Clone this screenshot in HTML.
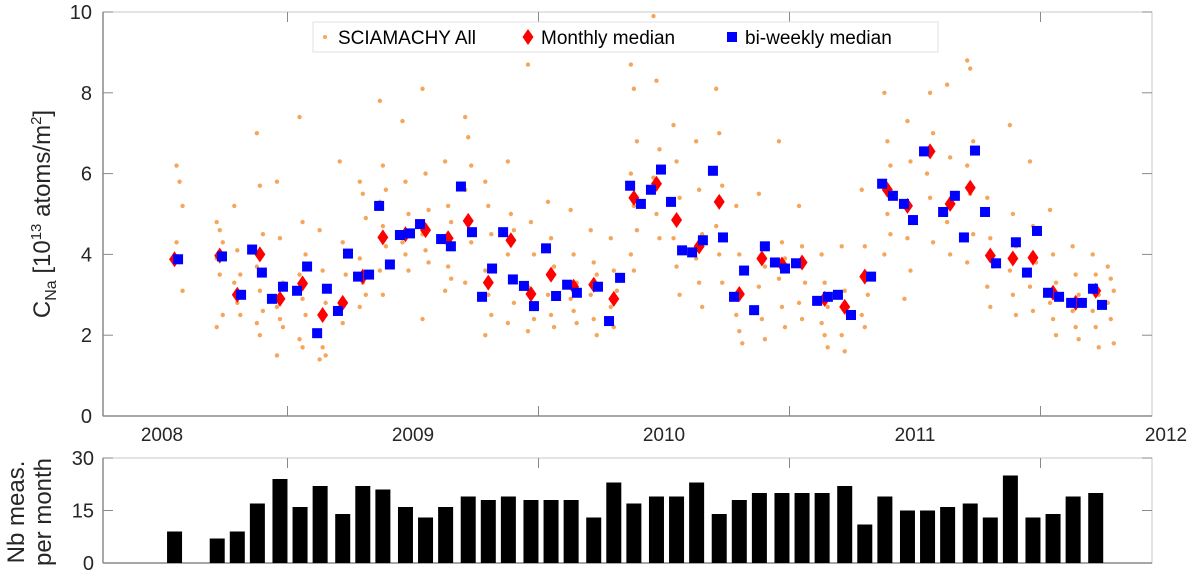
<!DOCTYPE html>
<html><head><meta charset="utf-8"><style>
body{margin:0;background:#fff;width:1200px;height:579px;overflow:hidden}
text{font-family:"Liberation Sans",sans-serif}
</style></head><body>
<svg id="c" width="1200" height="579" xmlns="http://www.w3.org/2000/svg"></svg>
<script>
const yTicksTop=[0,2,4,6,8,10];
const yTicksBot=[0,15,30];
const yearLabels=[2008,2009,2010,2011,2012];
const monthlyT=[2008.05,2008.23,2008.30,2008.39,2008.47,2008.56,2008.64,2008.72,2008.80,2008.88,2008.97,2009.05,2009.14,2009.22,2009.30,2009.39,2009.47,2009.55,2009.64,2009.72,2009.80,2009.88,2009.97,2010.05,2010.14,2010.22,2010.30,2010.39,2010.47,2010.55,2010.64,2010.72,2010.80,2010.89,2010.97,2011.06,2011.14,2011.22,2011.30,2011.39,2011.47,2011.55,2011.64,2011.72];
const monthlyV=[3.88,3.97,3.0,4.0,2.9,3.28,2.5,2.8,3.45,4.42,4.5,4.6,4.4,4.83,3.3,4.35,3.02,3.5,3.2,3.25,2.9,5.4,5.75,4.85,4.2,5.3,3.02,3.9,3.75,3.8,2.9,2.7,3.45,5.6,5.2,6.55,5.25,5.65,3.97,3.9,3.92,3.05,2.8,3.1];
const biweeklyT=[2008.064,2008.239,2008.315,2008.359,2008.398,2008.438,2008.482,2008.538,2008.578,2008.618,2008.657,2008.701,2008.741,2008.781,2008.825,2008.865,2008.908,2008.948,2008.988,2009.028,2009.112,2009.151,2009.191,2009.235,2009.275,2009.315,2009.359,2009.398,2009.442,2009.482,2009.530,2009.570,2009.614,2009.653,2009.737,2009.781,2009.825,2009.865,2009.908,2009.948,2009.988,2010.028,2010.072,2010.112,2010.155,2010.195,2010.235,2010.279,2010.319,2010.359,2010.402,2010.442,2010.482,2010.526,2010.610,2010.653,2010.693,2010.745,2010.825,2010.869,2010.912,2010.956,2010.992,2011.036,2011.112,2011.159,2011.195,2011.239,2011.279,2011.323,2011.402,2011.446,2011.486,2011.530,2011.574,2011.622,2011.665,2011.709,2011.745];
const biweeklyV=[3.88,3.95,3.0,4.12,3.55,2.9,3.2,3.1,3.7,2.05,3.15,2.6,4.02,3.45,3.5,5.2,3.75,4.48,4.52,4.75,4.38,4.2,5.68,4.55,2.95,3.65,4.55,3.38,3.22,2.72,4.15,2.97,3.25,3.05,3.2,2.35,3.42,5.7,5.25,5.6,6.1,5.3,4.1,4.05,4.35,6.07,4.42,2.95,3.6,2.62,4.2,3.8,3.65,3.78,2.85,2.95,3.0,2.5,3.45,5.75,5.45,5.25,4.85,6.55,5.05,5.45,4.42,6.57,5.05,3.78,4.3,3.55,4.58,3.05,2.95,2.8,2.8,3.15,2.75];
const allT=[2008.07,2008.23,2008.30,2008.39,2008.47,2008.56,2008.64,2008.72,2008.80,2008.88,2008.97,2009.05,2009.14,2009.22,2009.30,2009.39,2009.47,2009.55,2009.64,2009.72,2009.80,2009.88,2009.97,2010.05,2010.14,2010.22,2010.30,2010.39,2010.47,2010.55,2010.64,2010.72,2010.80,2010.89,2010.97,2011.06,2011.14,2011.22,2011.30,2011.39,2011.47,2011.55,2011.64,2011.72,2011.78];
const allV=[[6.2,5.8,5.2,4.3,3.8,3.1],[4.8,4.6,4.3,3.9,3.5,2.5,2.2],[5.2,4.1,3.5,3.3,2.8,2.5],[7.0,5.7,4.5,3.7,3.1,2.6,2.3,2.0],[5.8,4.4,3.3,2.7,2.4,2.2,1.5],[7.4,4.8,4.0,3.5,2.9,2.5,1.9,1.7],[4.6,3.6,2.8,2.0,1.7,1.5,1.4],[6.3,4.3,3.5,2.7,2.3],[5.8,5.5,4.9,3.9,3.3,3.0,2.7],[7.8,6.2,5.6,5.3,4.7,4.2,3.6,3.0],[7.3,5.8,5.0,4.3,4.0,3.6],[8.1,6.0,5.1,4.5,4.1,3.8,2.4],[6.3,5.2,4.8,4.3,3.7,3.4,3.1],[7.4,6.9,6.2,5.6,4.9,4.3,3.3],[5.8,5.2,4.5,3.6,3.0,2.5,2.0],[6.3,5.0,4.6,4.0,3.4,2.8,2.3],[8.7,4.8,4.0,3.2,2.8,2.4,2.1],[5.3,4.4,3.7,3.0,2.5,2.2],[5.1,4.0,3.3,2.9,2.6,2.3],[4.6,3.8,3.5,3.0,2.4,2.0],[4.4,3.6,3.1,2.7,2.2],[8.7,8.1,6.8,6.0,5.2,4.6,4.0,3.6],[9.9,8.3,6.6,5.9,5.0,4.4],[7.2,6.3,5.4,4.4,3.7,3.0],[6.8,5.6,4.5,3.9,3.3,2.7],[8.1,7.0,5.7,4.7,4.0,3.3],[5.2,4.0,3.0,2.5,2.1,1.8],[5.5,4.2,3.7,3.2,2.4,1.9],[6.8,4.3,3.9,3.4,2.7,2.2],[5.2,4.2,3.3,2.8,2.4],[4.0,3.3,2.7,2.3,2.0,1.7],[4.2,3.1,2.5,2.0,1.6],[5.6,4.2,3.0,2.5,2.2],[8.0,6.8,6.2,5.6,5.0,4.5,4.0],[9.1,7.3,6.3,5.2,4.4,3.6,2.9],[9.5,8.0,7.0,6.0,5.4,4.3],[8.2,6.4,5.5,4.8,4.0],[8.8,8.6,6.8,6.2,5.5,4.5,3.8],[5.4,4.4,3.7,3.2,2.7],[7.2,5.0,4.2,3.6,3.0,2.5],[6.3,4.7,3.8,3.2,2.6],[5.1,4.0,3.3,2.8,2.4,2.0],[4.2,3.5,3.0,2.6,2.2,1.9],[4.0,3.5,3.0,2.6,2.2,1.7],[3.7,3.4,3.1,2.8,2.4,1.8]];
const barT=[2008.05,2008.13,2008.22,2008.30,2008.38,2008.47,2008.55,2008.63,2008.72,2008.80,2008.88,2008.97,2009.05,2009.13,2009.22,2009.30,2009.38,2009.47,2009.55,2009.63,2009.72,2009.80,2009.88,2009.97,2010.05,2010.13,2010.22,2010.30,2010.38,2010.47,2010.55,2010.63,2010.72,2010.80,2010.88,2010.97,2011.05,2011.13,2011.22,2011.30,2011.38,2011.47,2011.55,2011.63,2011.72];
const barV=[9,0,7,9,17,24,16,22,14,22,21,16,13,16,19,18,19,18,18,18,13,23,17,19,19,23,14,18,20,20,20,20,22,11,19,15,15,16,17,13,25,13,14,19,20];

const svg=document.getElementById('c');
const NS='http://www.w3.org/2000/svg';
function mk(tag,attrs,parent){const e=document.createElementNS(NS,tag);for(const k in attrs)e.setAttribute(k,attrs[k]);(parent||svg).appendChild(e);return e;}
const L=103,R=1152,T=12,B=416,BT=458,BB=563;
const xS=t=>162+(t-2008)*251;
const yS=v=>B-(v/10)*(B-T);
const yB=v=>BB-(v/30)*(BB-BT);

let g=mk('g',{});


mk('rect',{x:L,y:T,width:R-L,height:B-T,fill:'none',stroke:'#c8c8c8','stroke-width':1},g);
mk('line',{x1:L,y1:T,x2:L,y2:B,stroke:'#8a8a8a','stroke-width':1.5},g);
mk('line',{x1:L,y1:B,x2:R,y2:B,stroke:'#8a8a8a','stroke-width':1.5},g);
yTicksTop.forEach(v=>{const y=yS(v);
 mk('line',{x1:L,y1:y,x2:L+10,y2:y,stroke:'#8a8a8a'},g);
 mk('line',{x1:R-10,y1:y,x2:R,y2:y,stroke:'#8a8a8a'},g);
 const t=mk('text',{x:92,y:y+7,'text-anchor':'end','font-size':20,fill:'#262626'},g);t.textContent=v;
 
 
});
[2008.5,2009.5,2010.5,2011.5].forEach(t=>{const x=xS(t);
 mk('line',{x1:x,y1:B,x2:x,y2:B-10,stroke:'#8a8a8a'},g);mk('line',{x1:x,y1:T,x2:x,y2:T+10,stroke:'#8a8a8a'},g);});
yearLabels.forEach(yr=>{const t=mk('text',{x:xS(yr),y:441,'text-anchor':'middle','font-size':19,fill:'#262626'});t.textContent=yr;
 
 });
let yl=mk('text',{transform:'translate(50,214) rotate(-90)','text-anchor':'middle','font-size':24,fill:'#262626'});
yl.innerHTML='C<tspan font-size="16" dy="6">Na</tspan><tspan dy="-6"> [10</tspan><tspan font-size="15" dy="-9">13</tspan><tspan dy="9"> atoms/m</tspan><tspan font-size="15" dy="-9">2</tspan><tspan dy="9">]</tspan>';



allT.forEach((t,i)=>{allV[i].forEach((v,j)=>{const off=[-0.012,0,0.012][j%3];
 const c=mk('circle',{cx:xS(t+off),cy:yS(v),r:2.2,fill:'#f5a65b'});
 
 });});
monthlyT.forEach((t,i)=>{const x=xS(t),y=yS(monthlyV[i]);
 const p=mk('polygon',{points:`${x},${y-8} ${x+5.5},${y} ${x},${y+8} ${x-5.5},${y}`,fill:'#ff0000'});
 
 });
biweeklyT.forEach((t,i)=>{const x=xS(t),y=yS(biweeklyV[i]);
 const r=mk('rect',{x:x-5,y:y-5,width:10,height:10,fill:'#0000ff'});
 
 });

let lg=mk('g',{});


mk('rect',{x:313,y:22,width:625,height:30,fill:'#fff',stroke:'#e0e0e0'},lg);
mk('circle',{cx:325,cy:37,r:2,fill:'#f5a65b'},lg);
let t1=mk('text',{x:338,y:44,'font-size':19,fill:'#000'},lg);t1.textContent='SCIAMACHY All';
mk('polygon',{points:'528,29 533.5,37 528,45 522.5,37',fill:'#f00'},lg);
let t2=mk('text',{x:541,y:44,'font-size':19,fill:'#000'},lg);t2.textContent='Monthly median';
mk('rect',{x:727,y:32,width:10,height:10,fill:'#00f'},lg);
let t3=mk('text',{x:745,y:44,'font-size':19,fill:'#000'},lg);t3.textContent='bi-weekly median';

let g2=mk('g',{});


mk('rect',{x:L,y:BT,width:R-L,height:BB-BT,fill:'none',stroke:'#c8c8c8'},g2);
mk('line',{x1:L,y1:BT,x2:L,y2:BB,stroke:'#8a8a8a','stroke-width':1.5},g2);
mk('line',{x1:L,y1:BB,x2:R,y2:BB,stroke:'#8a8a8a','stroke-width':1.5},g2);
yTicksBot.forEach(v=>{const y=yB(v);
 mk('line',{x1:L,y1:y,x2:L+10,y2:y,stroke:'#8a8a8a'},g2);
 mk('line',{x1:R-10,y1:y,x2:R,y2:y,stroke:'#8a8a8a'},g2);
 const t=mk('text',{x:94,y:y+7,'text-anchor':'end','font-size':20,fill:'#262626'},g2);t.textContent=v;
 
 });
[2008.5,2009.5,2010.5,2011.5].forEach(t=>{const x=xS(t);mk('line',{x1:x,y1:BT,x2:x,y2:BT+10,stroke:'#8a8a8a'},g2);});
barT.forEach((t,i)=>{if(!barV[i])return;const x=xS(t);
 const b=mk('rect',{x:x-7.5,y:yB(barV[i]),width:15,height:BB-yB(barV[i]),fill:'#000'});
 
 });
let bl=mk('text',{transform:'translate(30,512) rotate(-90)','text-anchor':'middle','font-size':24,fill:'#262626'});
bl.innerHTML='<tspan x="0" dy="-6">Nb meas.</tspan><tspan x="0" dy="27">per month</tspan>';


</script>
</body></html>
